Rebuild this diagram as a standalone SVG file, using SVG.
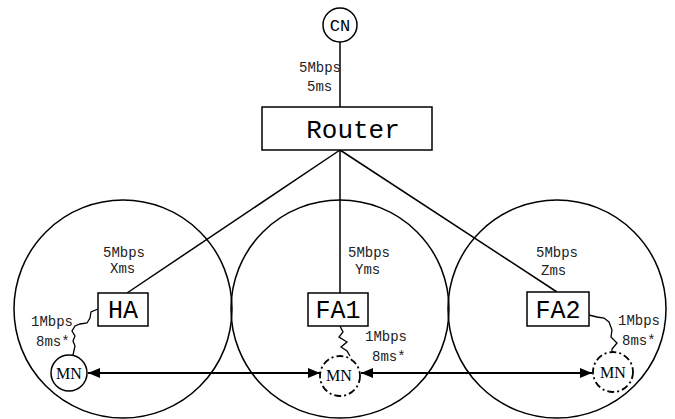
<svg xmlns="http://www.w3.org/2000/svg" width="675" height="419" viewBox="0 0 675 419">
<defs>
<marker id="ah" viewBox="0 0 12 10" refX="12" refY="5" markerWidth="12" markerHeight="10" markerUnits="userSpaceOnUse" orient="auto-start-reverse">
<path d="M0,0 L12,5 L0,10 Z" fill="#000"/>
</marker>
<style>
.cell{fill:none;stroke:#000;stroke-width:1.5}
.box{fill:#fff;stroke:#000;stroke-width:1.5}
.ln{fill:none;stroke:#000;stroke-width:1.5}
.wav{fill:none;stroke:#000;stroke-width:1.3}
.arr{fill:none;stroke:#000;stroke-width:2}
.mn{fill:#fff;stroke:#000;stroke-width:1.5}
.mnd{fill:#fff;stroke:#000;stroke-width:1.8;stroke-dasharray:7 3 2 3}
.lbl{font-family:"Liberation Mono",monospace;font-size:14px;fill:#222}
.big{font-family:"Liberation Mono",monospace;font-size:25px;fill:#000}
.mnt{font-family:"Liberation Serif",serif;font-size:16px;fill:#000}
</style>
</defs>
<rect width="675" height="419" fill="#fff"/>
<g id="cells">
<circle class="cell" cx="123" cy="309" r="109"/>
<circle class="cell" cx="340" cy="309" r="109"/>
<circle class="cell" cx="557" cy="309" r="109"/>
</g>
<g id="connectors">
<line class="ln" x1="340" y1="42" x2="340" y2="107"/>
<line class="ln" x1="340" y1="150" x2="127" y2="293"/>
<line class="ln" x1="340" y1="150" x2="340" y2="293"/>
<line class="ln" x1="340" y1="150" x2="557" y2="292"/>
<path class="wav" d="M98,309 L91,312 L90,318 L87,323 L80,324 L75,326 L72,331 L75,336 L73,341 L75,346 L73,355"/>
<path class="wav" d="M340,326 L343,332 L339,337 L347,342 L341,347 L347,351 L350,356"/>
<path class="wav" d="M589,315 L597,317 L604,318 L609,322 L612,330 L611,337 L617,343 L612,349 L612,353"/>
<line class="arr" x1="88" y1="373" x2="320" y2="373" marker-start="url(#ah)" marker-end="url(#ah)"/>
<line class="arr" x1="361" y1="373" x2="592" y2="373" marker-start="url(#ah)" marker-end="url(#ah)"/>
<text class="lbl" x="299" y="72">5Mbps</text>
<text class="lbl" x="307" y="91">5ms</text>
<text class="lbl" x="103" y="257">5Mbps</text>
<text class="lbl" x="110" y="273">Xms</text>
<text class="lbl" x="348" y="257">5Mbps</text>
<text class="lbl" x="355" y="274">Yms</text>
<text class="lbl" x="536" y="257">5Mbps</text>
<text class="lbl" x="541" y="275">Zms</text>
<text class="lbl" x="31" y="326">1Mbps</text>
<text class="lbl" x="36" y="346">8ms*</text>
<text class="lbl" x="365" y="341">1Mbps</text>
<text class="lbl" x="372" y="361">8ms*</text>
<text class="lbl" x="618" y="325">1Mbps</text>
<text class="lbl" x="622" y="345">8ms*</text>
</g>
<g id="CN">
<circle class="mn" cx="340" cy="25" r="17"/>
<text class="mnt" x="340" y="31" text-anchor="middle" style="font-family:'Liberation Mono',monospace;font-size:17px">CN</text>
</g>
<g id="Router">
<rect class="box" x="262" y="107" width="170" height="43"/>
<text class="big" x="353" y="138" text-anchor="middle" style="font-size:26px">Router</text>
</g>
<g id="HA">
<rect class="box" x="98" y="293" width="50" height="33"/>
<text class="big" x="123" y="318" text-anchor="middle">HA</text>
</g>
<g id="FA1">
<rect class="box" x="308" y="293" width="60" height="33"/>
<text class="big" x="338" y="318" text-anchor="middle">FA1</text>
</g>
<g id="FA2">
<rect class="box" x="527" y="292" width="62" height="34"/>
<text class="big" x="558" y="318" text-anchor="middle">FA2</text>
</g>
<g id="MN1">
<circle class="mn" cx="69" cy="373" r="18"/>
<text class="mnt" x="69" y="379" text-anchor="middle">MN</text>
</g>
<g id="MN2">
<circle class="mnd" cx="340" cy="376" r="20"/>
<text class="mnt" x="339" y="381" text-anchor="middle">MN</text>
</g>
<g id="MN3">
<circle class="mnd" cx="613" cy="372" r="20"/>
<text class="mnt" x="613" y="378" text-anchor="middle">MN</text>
</g>
</svg>
